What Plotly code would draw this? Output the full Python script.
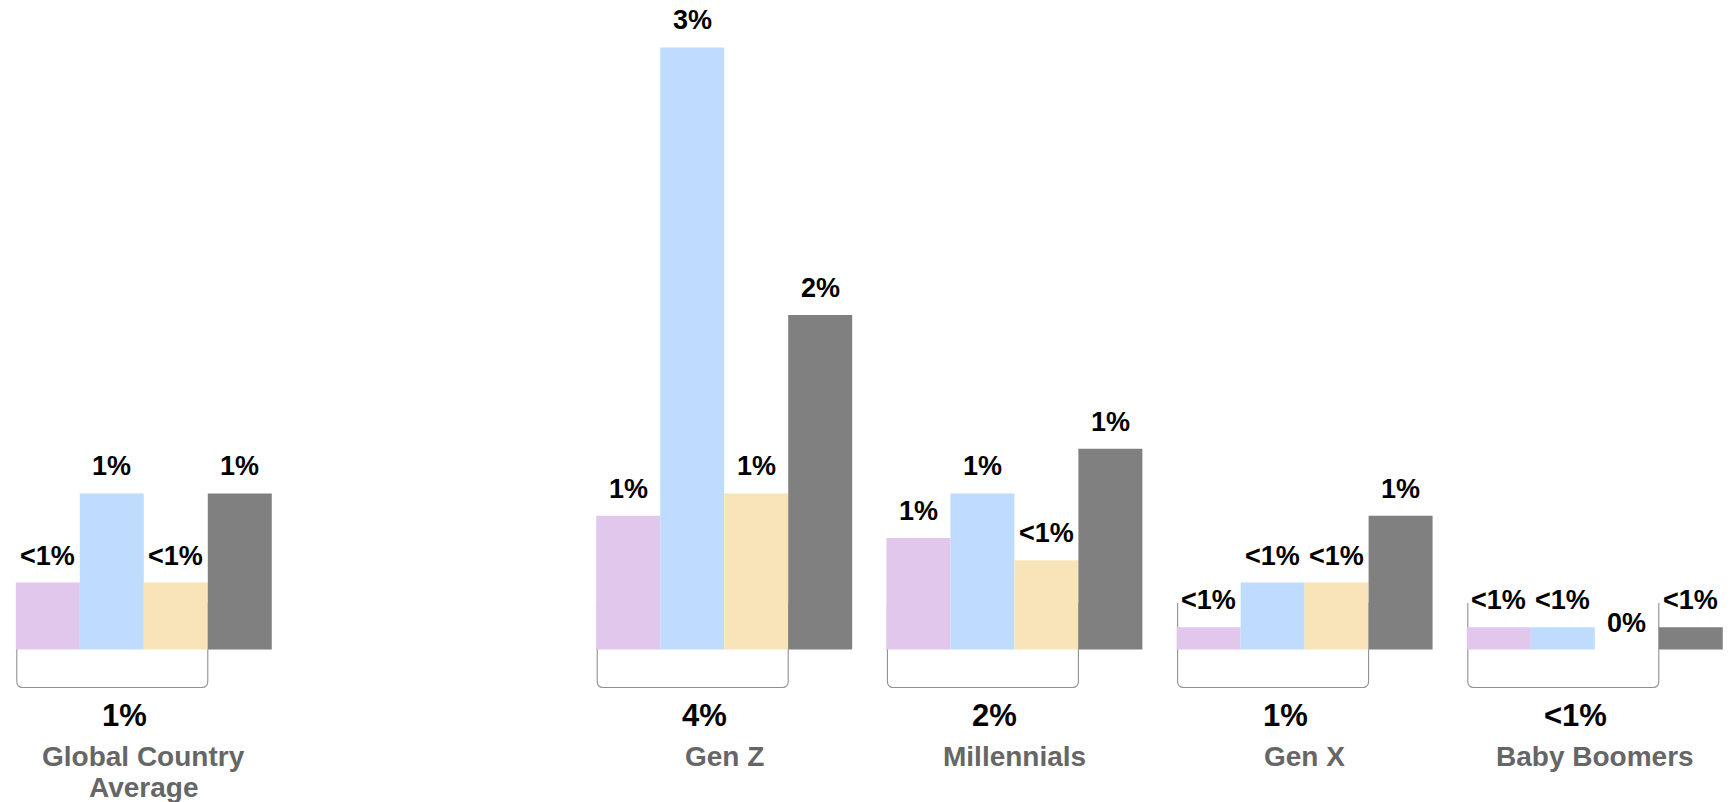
import plotly.graph_objects as go

# ---- data ----
categories = ["Global Country<br>Average", "Gen Z", "Millennials", "Gen X", "Baby Boomers"]
cat_positions = [0, 2, 3, 4, 5]
series_names = ["Segment 1", "Segment 2", "Segment 3", "Segment 4"]
purple_vals = [0.3, 0.6, 0.5, 0.1, 0.1]
blue_vals = [0.7, 2.7, 0.7, 0.3, 0.1]
yellow_vals = [0.3, 0.7, 0.4, 0.3, 0.0]
gray_vals = [0.7, 1.5, 0.9, 0.6, 0.1]
purple_labels = ["<1%", "1%", "1%", "<1%", "<1%"]
blue_labels = ["1%", "3%", "1%", "<1%", "<1%"]
yellow_labels = ["<1%", "1%", "<1%", "<1%", "0%"]
gray_labels = ["1%", "2%", "1%", "1%", "<1%"]
sum_labels = ["1%", "4%", "2%", "1%", "<1%"]

# ---- style ----
colors = ["#E2C7EC", "#BFDBFE", "#F8E4B8", "#808080"]
FONT = "Liberation Sans, Arial, sans-serif"
W, H = 1736, 802
BASE_PX = 649.5          # baseline distance from top (px)
PX_PER_UNIT = 223.0      # vertical px per 1 value unit
X_PX_PER_UNIT = 290.2    # horizontal px per category slot
X0_PX = 143.8            # pixel of x=0
BARGAP = 0.118
N = 4
bw = (1 - BARGAP) / N

Y_MAX = BASE_PX / PX_PER_UNIT
Y_MIN = -(H - BASE_PX) / PX_PER_UNIT
X_MIN = -X0_PX / X_PX_PER_UNIT
X_MAX = (W - X0_PX) / X_PX_PER_UNIT

all_vals = [purple_vals, blue_vals, yellow_vals, gray_vals]
all_labels = [purple_labels, blue_labels, yellow_labels, gray_labels]

fig = go.Figure()
for name, vals, col in zip(series_names, all_vals, colors):
    fig.add_trace(go.Bar(x=cat_positions, y=vals, name=name, marker_color=col,
                         marker_line_width=0, showlegend=False, hoverinfo="skip"))

annotations = []
shapes = []
for gi, cx in enumerate(cat_positions):
    left = cx - (1 - BARGAP) / 2
    # value labels
    for k in range(N):
        bx = left + (k + 0.5) * bw
        annotations.append(dict(x=bx, y=all_vals[k][gi], text=all_labels[k][gi],
                                showarrow=False, yanchor="middle", yshift=27,
                                font=dict(family=FONT, size=27, color="#000000",
                                          weight="bold")))
    # bracket over first three bars
    xl = left + 1.0 / X_PX_PER_UNIT
    xr = left + 3 * bw
    yt = (BASE_PX - 603) / PX_PER_UNIT
    yb = (BASE_PX - 687.5) / PX_PER_UNIT
    rx = 6 / X_PX_PER_UNIT
    ry = 6 / PX_PER_UNIT
    path = (f"M {xl},{yt} L {xl},{yb + ry} Q {xl},{yb} {xl + rx},{yb} "
            f"L {xr - rx},{yb} Q {xr},{yb} {xr},{yb + ry} L {xr},{yt}")
    shapes.append(dict(type="path", path=path, xref="x", yref="y", layer="below",
                       line=dict(color="#909090", width=1.1)))
    # sum label
    annotations.append(dict(x=(xl + xr) / 2, y=0, text=sum_labels[gi], showarrow=False,
                            yanchor="middle", yshift=-(715 - BASE_PX), xshift=12,
                            font=dict(family=FONT, size=31, color="#000000",
                                      weight="bold")))
    # category label (each line placed separately)
    for li, line in enumerate(categories[gi].split("<br>")):
        annotations.append(dict(x=cx, y=0, text=line, showarrow=False, yanchor="middle",
                                yshift=-(756 + li * 31 - BASE_PX),
                                font=dict(family=FONT, size=28, color="#666666",
                                          weight="bold")))

fig.update_layout(
    width=W, height=H,
    margin=dict(l=0, r=0, t=0, b=0),
    paper_bgcolor="white", plot_bgcolor="white",
    barmode="group", bargap=BARGAP, bargroupgap=0,
    xaxis=dict(visible=False, range=[X_MIN, X_MAX]),
    yaxis=dict(visible=False, range=[Y_MIN, Y_MAX]),
    annotations=annotations, shapes=shapes,
    font=dict(family=FONT, size=26, color="#000000"),
)
fig.write_html("out.html")
